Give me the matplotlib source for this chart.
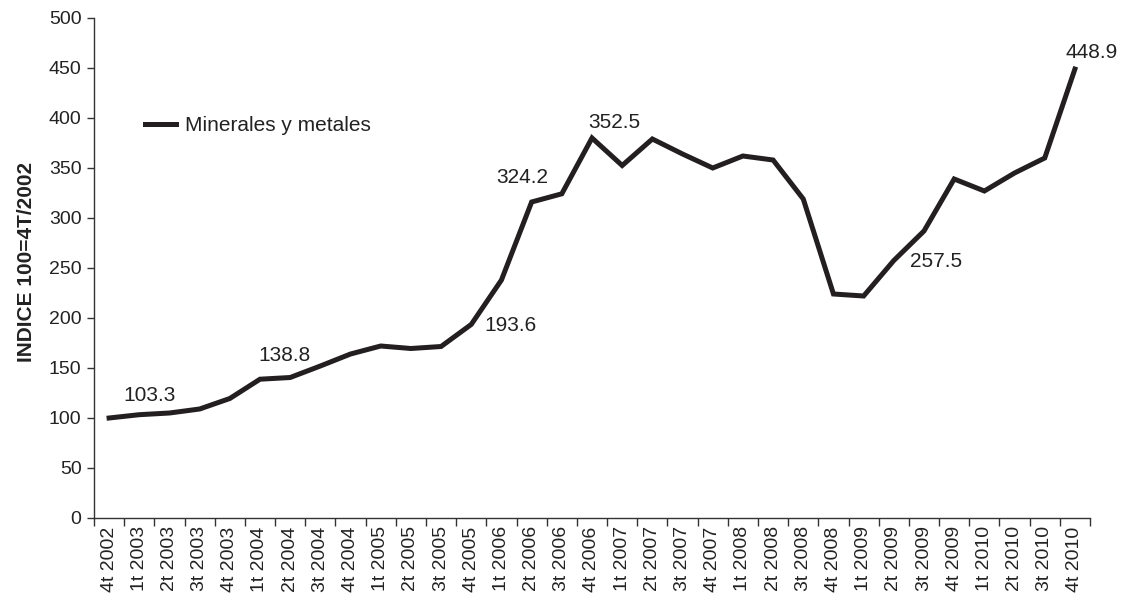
import matplotlib
matplotlib.use("Agg")
import matplotlib.pyplot as plt
import numpy as np

plt.rcParams['font.family'] = ['Liberation Sans', 'DejaVu Sans']

categories = ["4t 2002", "1t 2003", "2t 2003", "3t 2003", "4t 2003",
              "1t 2004", "2t 2004", "3t 2004", "4t 2004",
              "1t 2005", "2t 2005", "3t 2005", "4t 2005",
              "1t 2006", "2t 2006", "3t 2006", "4t 2006",
              "1t 2007", "2t 2007", "3t 2007", "4t 2007",
              "1t 2008", "2t 2008", "3t 2008", "4t 2008",
              "1t 2009", "2t 2009", "3t 2009", "4t 2009",
              "1t 2010", "2t 2010", "3t 2010", "4t 2010"]
values = [100.0, 103.3, 105.0, 109.0, 119.5,
          138.8, 140.5, 152.0, 164.0,
          172.0, 169.5, 171.5, 193.6,
          238.0, 316.0, 324.2, 380.0,
          352.5, 379.0, 364.0, 350.0,
          362.0, 358.0, 319.0, 224.0,
          222.0, 257.5, 287.0, 339.0,
          327.0, 345.0, 360.0, 448.9]
series_name = "Minerales y metales"
y_label = "INDICE 100=4T/2002"
y_ticks = [0, 50, 100, 150, 200, 250, 300, 350, 400, 450, 500]

# labelled points: (index, text, offset in pixels)
labelled = [(1, "103.3", (10, 19)),
            (5, "138.8", (25, 24)),
            (12, "193.6", (39, -1)),
            (15, "324.2", (-40, 16)),
            (17, "352.5", (-8, 43)),
            (26, "257.5", (42, -1)),
            (32, "448.9", (17, 17))]

color = '#231f20'
fig = plt.figure(figsize=(11.21, 6.0), dpi=100)
ax = fig.add_axes([94/1121, 82/600, 996/1121, 500/600])

x = np.arange(len(categories))
ax.plot(x, values, color=color, lw=3.6, solid_joinstyle='miter', label=series_name)

ax.set_xlim(-0.5, len(categories) - 0.5)
ax.set_ylim(0, 500)
ax.set_yticks(y_ticks)
ax.tick_params(axis='y', direction='out', length=5, width=1, colors='#333333',
               labelsize=14, labelcolor='#222222', pad=4)

ax.set_xticks(x)
ax.set_xticklabels(categories, rotation=90, fontsize=14, color='#222222')
ax.tick_params(axis='x', which='major', length=0, pad=6)
ax.set_xticks(np.arange(-0.5, len(categories) + 0.5, 1.0), minor=True)
ax.tick_params(axis='x', which='minor', direction='out', length=6, width=1, colors='#333333')

for s in ['top', 'right']:
    ax.spines[s].set_visible(False)
for s in ['left', 'bottom']:
    ax.spines[s].set_color('#333333')
    ax.spines[s].set_linewidth(1)

ax.set_ylabel(y_label, fontsize=15, fontweight='bold', color='#222222')
ax.yaxis.set_label_coords(-0.058, 0.512)

for idx, txt, (dx, dy) in labelled:
    ax.annotate(txt, xy=(x[idx], values[idx]), xytext=(dx, dy), textcoords='offset pixels',
                ha='center', va='center', fontsize=15, color='#222222')

leg = ax.legend(loc='center left', bbox_to_anchor=(0.043, 0.785), frameon=False,
                fontsize=15, handlelength=1.5, handletextpad=0.4, borderaxespad=0)
for t in leg.get_texts():
    t.set_color('#222222')

fig.savefig("out.png", dpi=100)
